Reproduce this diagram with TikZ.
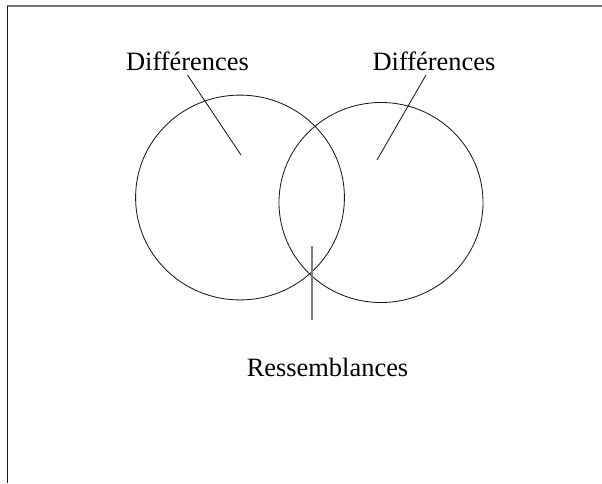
\documentclass[tikz,border=0pt]{standalone}
\usepackage{fontspec}
\setmainfont{Liberation Serif}
\usetikzlibrary{positioning, shapes.geometric}
\definecolor{Ink}{HTML}{1A1A1A}
\definecolor{Frame}{HTML}{777777}
\definecolor{Mark}{HTML}{808080}
\tikzset{
    setnode/.style={ellipse, draw=Ink, line width=0.6pt, inner sep=0pt},
    tagnode/.style={font=\fontsize{18.8}{22}\selectfont, text=black, inner sep=3pt},
    pointer/.style={draw=Ink, line width=0.6pt},
}
\begin{document}
\begin{tikzpicture}[x=0.025cm, y=-0.025cm]
    \useasboundingbox (0,0) rectangle (602,483);
    \draw[Frame, line width=0.8pt] (7,6) -- (602,6);
    \draw[Ink, line width=0.7pt] (7,6) -- (7,483);
    % the two sets
    \node[setnode, minimum width=5.22cm, minimum height=5.12cm] (lset) at (240,197.5) {};
    \node[setnode, minimum width=5.1cm, minimum height=5cm] (rset) at (381,202.5) {};
    % texts
    \node[tagnode] (ldiff) at (187.5,61) {Différences};
    \node[tagnode] (rdiff) at (434,61) {Différences};
    \node[tagnode] (resem) at (327.5,367.5) {Ressemblances};
    % pointers
    \coordinate (lin) at (241,155);
    \coordinate (rin) at (377,160);
    \coordinate (both) at (312,246);
    \coordinate (tail) at (312,320);
    \draw[pointer] (ldiff.south) -- (lin);
    \draw[pointer] ([xshift=-0.2cm]rdiff.south) -- (rin);
    \draw[Mark, line width=0.9pt] (both) -- (tail);
\end{tikzpicture}
\end{document}
